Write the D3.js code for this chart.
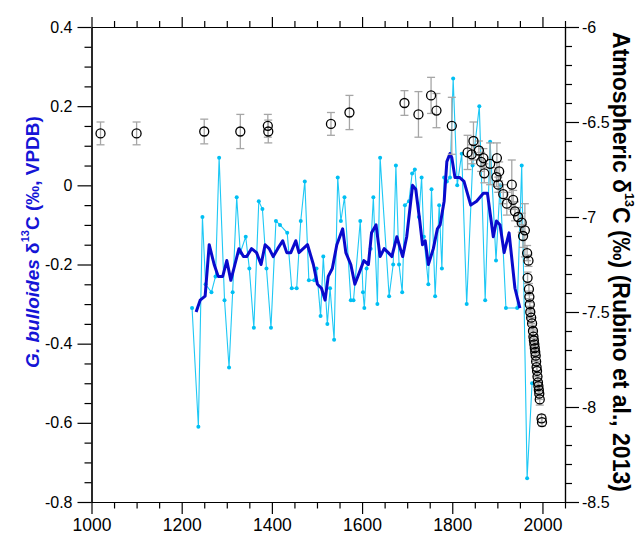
<!DOCTYPE html>
<html><head><meta charset="utf-8">
<script src="https://cdn.jsdelivr.net/npm/d3@7"></script>
<style>body{margin:0;background:#fff}svg{display:block}</style>
</head><body>
<svg id="chart" width="639" height="537"></svg>
<script>
// ---- data ----
const bullYears = [1223,1237,1246,1253,1266,1275,1283,1295,1305,1313,1322,1330,1342,1350,1360,1371,1379,1388,1398,1409,1418,1434,1444,1455,1464,1473,1482,1494,1499,1508,1514,1523,1529,1538,1546,1553,1561,1575,1581,1596,1602,1605,1610,1619,1625,1634,1640,1660,1669,1675,1682,1689,1695,1704,1711,1717,1726,1732,1737,1747,1754,1762,1771,1777,1782,1788,1795,1802,1811,1821,1832,1845,1860,1873,1884,1897,1906,1919,1944,1954,1966,1977];
const bullValues = [-0.31,-0.61,-0.08,-0.25,-0.27,-0.23,0.07,-0.29,-0.46,-0.27,-0.03,-0.17,-0.13,-0.21,-0.36,-0.04,-0.06,-0.21,-0.36,-0.09,-0.10,-0.12,-0.26,-0.26,-0.09,0.01,-0.24,-0.24,-0.21,-0.33,-0.18,-0.35,-0.26,-0.39,0.02,-0.09,-0.03,-0.29,-0.29,-0.09,-0.27,-0.31,-0.21,-0.16,-0.03,-0.30,0.07,-0.28,-0.20,0.05,-0.20,-0.27,-0.05,-0.04,0.03,0.04,-0.08,0.02,-0.13,-0.25,-0.01,-0.28,-0.05,-0.21,0.02,0.01,0.02,0.27,0.00,0.08,-0.30,0.05,0.20,-0.29,0.11,-0.19,0.00,-0.31,-0.31,0.05,-0.74,-0.50];

const meanYears = [1232,1241,1252,1261,1272,1281,1291,1300,1309,1318,1327,1337,1344,1355,1366,1376,1385,1394,1403,1413,1424,1433,1442,1453,1460,1479,1492,1501,1510,1518,1525,1534,1544,1557,1564,1575,1584,1594,1604,1614,1621,1631,1640,1649,1658,1666,1677,1690,1699,1705,1712,1719,1728,1734,1740,1747,1758,1767,1773,1782,1788,1795,1799,1806,1816,1826,1841,1854,1869,1878,1891,1898,1906,1915,1926,1939,1950];
const meanValues = [-0.32,-0.29,-0.28,-0.15,-0.20,-0.23,-0.23,-0.19,-0.24,-0.20,-0.16,-0.18,-0.18,-0.16,-0.17,-0.20,-0.15,-0.16,-0.18,-0.16,-0.14,-0.17,-0.17,-0.14,-0.17,-0.15,-0.20,-0.25,-0.26,-0.29,-0.23,-0.21,-0.15,-0.11,-0.17,-0.20,-0.25,-0.22,-0.19,-0.20,-0.12,-0.10,-0.18,-0.16,-0.17,-0.18,-0.13,-0.18,-0.13,-0.07,0.00,-0.01,-0.09,-0.15,-0.14,-0.20,-0.16,-0.11,-0.10,-0.04,0.06,0.08,0.07,0.02,0.02,0.01,-0.05,-0.04,-0.02,-0.02,-0.13,-0.09,-0.10,-0.17,-0.12,-0.26,-0.31];

const atmYears = [1020,1100,1250,1330,1391,1392,1531,1572,1694,1725,1753,1765,1799,1834,1843,1847,1859,1864,1869,1871,1884,1898,1899,1902,1904,1913,1921,1932,1935,1939,1946,1954,1957,1961,1966,1967,1969,1970,1971,1972,1973,1975,1977,1979,1980,1981,1982,1983,1984,1985,1986,1987,1988,1989,1990,1991,1992,1993,1994,1998,1999];
const atmValues = [-6.56,-6.56,-6.55,-6.55,-6.52,-6.55,-6.51,-6.45,-6.40,-6.46,-6.36,-6.44,-6.52,-6.66,-6.67,-6.60,-6.65,-6.71,-6.69,-6.77,-6.72,-6.79,-6.69,-6.83,-6.76,-6.88,-6.93,-6.83,-6.91,-6.97,-7.00,-7.03,-7.10,-7.07,-7.19,-7.32,-7.23,-7.38,-7.42,-7.46,-7.50,-7.53,-7.56,-7.60,-7.63,-7.65,-7.67,-7.69,-7.71,-7.73,-7.76,-7.79,-7.81,-7.84,-7.87,-7.89,-7.91,-7.93,-7.96,-8.06,-8.08];
const atmErrors = [0.06,0.06,0.065,0.09,0.06,0.06,0.06,0.09,0.065,0.12,0.095,0.09,0.15,0.09,0.05,0.10,0.05,0.05,0.05,0.05,0.11,0.05,0.08,0.04,0.05,0.05,0.06,0.13,0.05,0.05,0.05,0.05,0.06,0.14,0.04,0.03,0.03,0.03,0.03,0.03,0.03,0.03,0.03,0.03,0.03,0.03,0.03,0.03,0.03,0.03,0.03,0.03,0.03,0.03,0.03,0.03,0.03,0.03,0.03,0.02,0.02];

const xMajorTicks = [1000,1200,1400,1600,1800,2000];
const leftMajorTicks = [0.4,0.2,0,-0.2,-0.4,-0.6,-0.8];
const leftTickLabels = ["0.4","0.2","0","-0.2","-0.4","-0.6","-0.8"];
const rightMajorTicks = [-6,-6.5,-7,-7.5,-8,-8.5];
const rightTickLabels = ["-6","-6.5","-7","-7.5","-8","-8.5"];

// ---- layout ----
const L = 91.5, R = 565, T = 27, B = 502;
const FONT = "'Liberation Sans', Arial, sans-serif";
const svg = d3.select("#chart");

const x = d3.scaleLinear().domain([1000, 2050]).range([L, R]);
const yL = d3.scaleLinear().domain([-0.8, 0.4]).range([B, T]);
const yR = d3.scaleLinear().domain([-8.5, -6]).range([B, T]);

const xMinor = d3.range(1000, 2051, 50).filter(v => !xMajorTicks.includes(v));
const lMinor = d3.range(-16, 9).map(i => i * 0.05).filter(v => !leftMajorTicks.some(m => Math.abs(m - v) < 1e-6));
const rMinor = d3.range(-85, -59).map(i => i / 10).filter(v => !rightMajorTicks.some(m => Math.abs(m - v) < 1e-6));

function styleAxis(g) {
  g.selectAll("path,line").attr("stroke", "#000").attr("stroke-width", 1.2);
  g.selectAll("text").attr("font-family", FONT).attr("fill", "#000");
}

// minor axes
svg.append("g").attr("transform", `translate(0,${B})`)
  .call(d3.axisBottom(x).tickValues(xMinor).tickSize(6.5).tickSizeOuter(0).tickFormat(""))
  .call(styleAxis);
svg.append("g").attr("transform", `translate(0,${T})`)
  .call(d3.axisTop(x).tickValues(xMinor).tickSize(6).tickSizeOuter(0).tickFormat(""))
  .call(styleAxis);
svg.append("g").attr("transform", `translate(${L},0)`)
  .call(d3.axisLeft(yL).tickValues(lMinor).tickSize(7).tickSizeOuter(0).tickFormat(""))
  .call(styleAxis);
svg.append("g").attr("transform", `translate(${R},0)`)
  .call(d3.axisRight(yR).tickValues(rMinor).tickSize(7).tickSizeOuter(0).tickFormat(""))
  .call(styleAxis);

// major axes
svg.append("g").attr("transform", `translate(0,${B})`)
  .call(d3.axisBottom(x).tickValues(xMajorTicks).tickSize(12).tickSizeOuter(0).tickPadding(5).tickFormat(d3.format("d")))
  .call(styleAxis)
  .call(g => g.selectAll("text").attr("font-size", 17.5));
svg.append("g").attr("transform", `translate(0,${T})`)
  .call(d3.axisTop(x).tickValues(xMajorTicks).tickSize(10).tickSizeOuter(0).tickFormat(""))
  .call(styleAxis);
svg.append("g").attr("transform", `translate(${L},0)`)
  .call(d3.axisLeft(yL).tickValues(leftMajorTicks).tickSize(14).tickSizeOuter(0).tickPadding(5)
    .tickFormat((d, i) => leftTickLabels[i]))
  .call(styleAxis)
  .call(g => g.selectAll("text").attr("font-size", 16));
svg.append("g").attr("transform", `translate(${R},0)`)
  .call(d3.axisRight(yR).tickValues(rightMajorTicks).tickSize(14).tickSizeOuter(0).tickPadding(3)
    .tickFormat((d, i) => rightTickLabels[i]))
  .call(styleAxis)
  .call(g => g.selectAll("text").attr("font-size", 16));

// ---- series ----
const bull = bullYears.map((yr, i) => ({x: yr, y: bullValues[i]}));
const mean = meanYears.map((yr, i) => ({x: yr, y: meanValues[i]}));
const atm = atmYears.map((yr, i) => ({x: yr, y: atmValues[i], e: atmErrors[i]}));

const plot = svg.append("g");

// raw G. bulloides
plot.append("path").datum(bull)
  .attr("d", d3.line().x(d => x(d.x)).y(d => yL(d.y)))
  .attr("fill", "none").attr("stroke", "#1ec8f5").attr("stroke-width", 1.1);
plot.append("g").selectAll("circle").data(bull).join("circle")
  .attr("cx", d => x(d.x)).attr("cy", d => yL(d.y)).attr("r", 2)
  .attr("fill", "#00bff3");

// running mean
plot.append("path").datum(mean)
  .attr("d", d3.line().x(d => x(d.x)).y(d => yL(d.y)))
  .attr("fill", "none").attr("stroke", "#0a0acc").attr("stroke-width", 3)
  .attr("stroke-linejoin", "round");

// atmospheric error bars
const eb = plot.append("g").attr("stroke", "#a6a6a6").attr("stroke-width", 1.3);
eb.selectAll("line.v").data(atm).join("line").attr("class", "v")
  .attr("x1", d => x(d.x)).attr("x2", d => x(d.x))
  .attr("y1", d => yR(d.y - d.e)).attr("y2", d => yR(d.y + d.e));
eb.selectAll("line.t").data(atm).join("line").attr("class", "t")
  .attr("x1", d => x(d.x) - 4).attr("x2", d => x(d.x) + 4)
  .attr("y1", d => yR(d.y + d.e)).attr("y2", d => yR(d.y + d.e));
eb.selectAll("line.b").data(atm).join("line").attr("class", "b")
  .attr("x1", d => x(d.x) - 4).attr("x2", d => x(d.x) + 4)
  .attr("y1", d => yR(d.y - d.e)).attr("y2", d => yR(d.y - d.e));

plot.append("g").selectAll("circle").data(atm).join("circle")
  .attr("cx", d => x(d.x)).attr("cy", d => yR(d.y)).attr("r", 4.5)
  .attr("fill", "none").attr("stroke", "#000").attr("stroke-width", 1.3);

// ---- titles ----
const lt = svg.append("text")
  .attr("transform", "translate(32,242) rotate(-90)")
  .attr("text-anchor", "middle").attr("dominant-baseline", "central")
  .attr("font-family", FONT).attr("font-weight", "bold").attr("font-size", 19)
  .attr("fill", "#1515d6");
lt.append("tspan").attr("font-style", "italic").text("G. bulloides");
lt.append("tspan").text(" δ");
lt.append("tspan").attr("font-size", 11).attr("dy", -7).text("13");
lt.append("tspan").attr("dy", 7).text("C (‰, VPDB)");

const rt = svg.append("text")
  .attr("transform", "translate(621,262) rotate(90)")
  .attr("text-anchor", "middle").attr("dominant-baseline", "central")
  .attr("font-family", FONT).attr("font-weight", "bold").attr("font-size", 23)
  .attr("fill", "#000");
rt.append("tspan").text("Atmospheric δ");
rt.append("tspan").attr("font-size", 12.5).attr("dy", -8).text("13");
rt.append("tspan").attr("dy", 8).text("C (‰) (Rubino et al., 2013)");
</script>
</body></html>
